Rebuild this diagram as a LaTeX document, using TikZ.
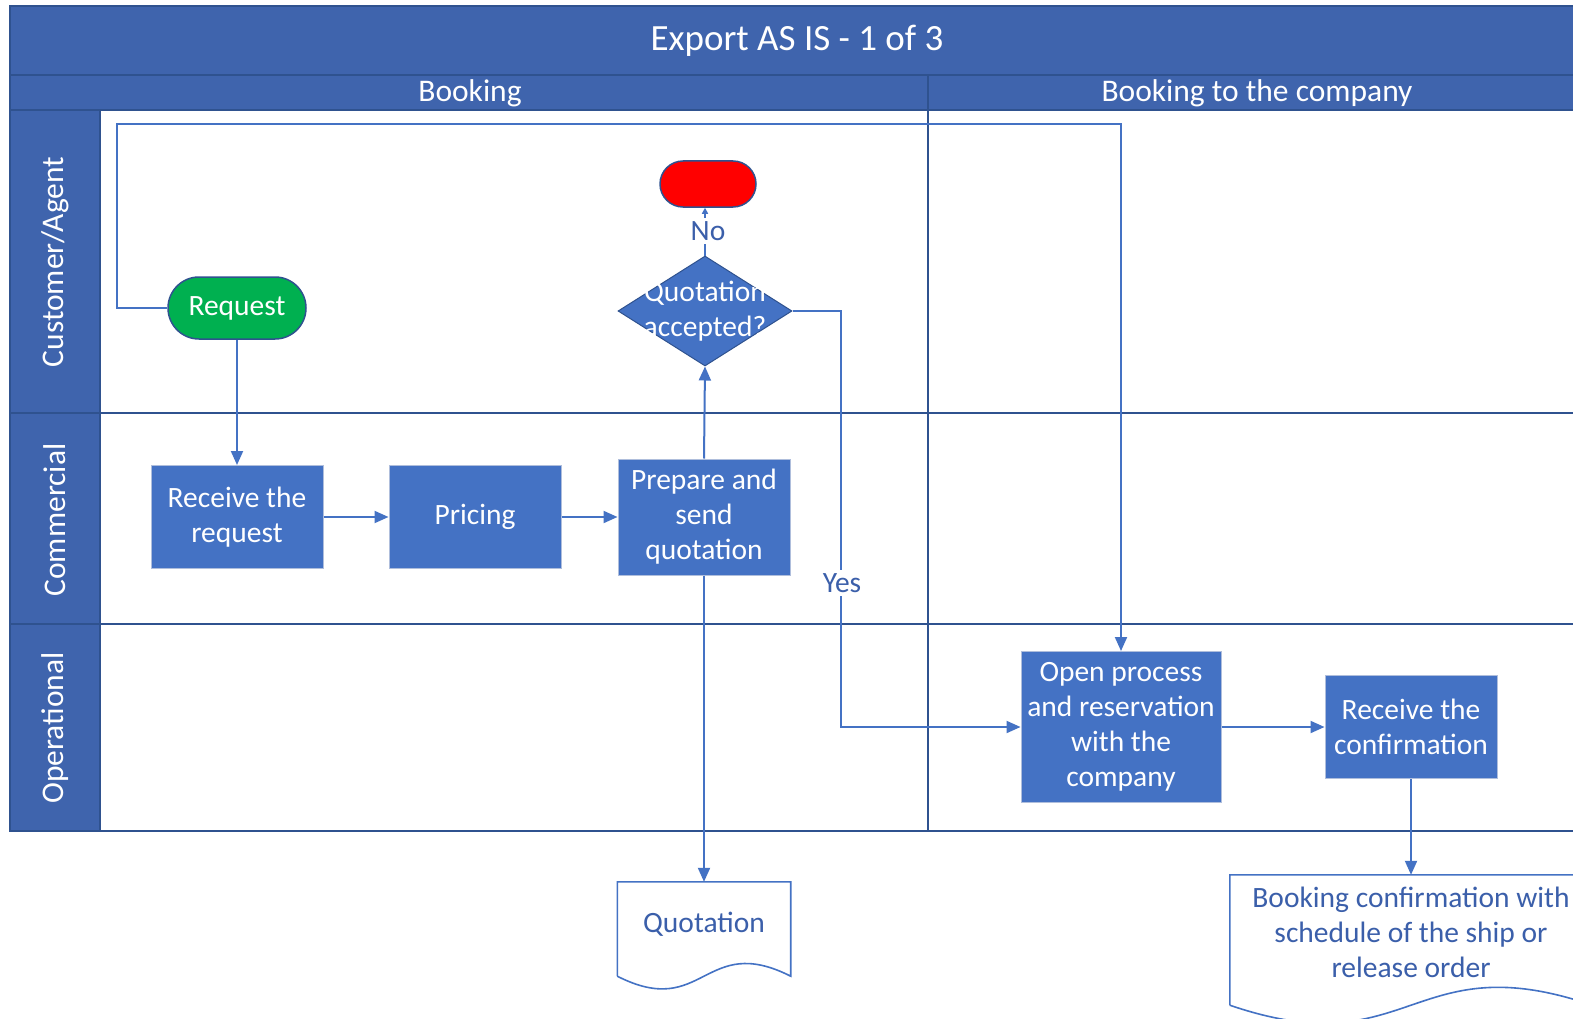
\documentclass[tikz,border=0pt]{standalone}
\usepackage{fontspec}
\setmainfont{Carlito}
\usetikzlibrary{shapes.geometric,arrows.meta,backgrounds,calc}

\definecolor{hdr}{RGB}{63,100,173}
\definecolor{hdrline}{RGB}{47,82,143}
\definecolor{boxblue}{RGB}{68,114,196}
\definecolor{boxedge}{RGB}{175,190,220}
\definecolor{lbl}{RGB}{59,95,170}
\definecolor{startgreen}{RGB}{0,176,80}
\definecolor{endred}{RGB}{255,0,0}

\begin{document}
\begin{tikzpicture}[x=1pt,y=-1pt,
  boxfont/.style={font=\fontsize{29.5}{35}\selectfont},
  proc/.style={boxfont, draw=boxedge, line width=1pt, fill=boxblue, text=white,
    align=center, inner sep=0pt, minimum width=172pt, minimum height=103pt},
  term/.style={boxfont, draw=hdrline, line width=1.5pt, text=white, inner sep=0pt},
  decision/.style={diamond, draw=hdrline, line width=1pt, fill=boxblue,
    inner sep=0pt, minimum width=174pt, minimum height=110pt},
  docbox/.style={inner sep=0pt, text=lbl, align=center,
    font=\fontsize{29.5}{35}\selectfont},
  docline/.style={draw=boxblue, line width=1.6pt},
  conn/.style={draw=boxblue, line width=2pt,
    -{Triangle[length=14pt,width=12pt]}},
  flowlabel/.style={fill=white, text=lbl, inner sep=3pt,
    font=\fontsize{29.5}{32}\selectfont},
  hdrtext/.style={text=white, font=\fontsize{31.5}{34}\selectfont},
  lanetext/.style={text=white, rotate=90, font=\fontsize{31.5}{34}\selectfont},
  laneline/.style={draw=hdrline, line width=1.5pt}
]
\useasboundingbox (0,0) rectangle (1573,1019);
\clip (0,0) rectangle (1573,1019);

% ---------- flow nodes ----------
\node[term, fill=startgreen, minimum width=138pt, minimum height=62pt,
      rounded corners=31pt] (req) at (237,308) {Request};
\node[term, fill=endred, minimum width=96pt, minimum height=46pt,
      rounded corners=23pt] (stop) at (708,184) {};
\node[decision,
      label={[text=white, boxfont, align=center]center:Quotation\\accepted?}]
      (dec) at (705,311) {};

\node[proc] (recv) at (237,517) {Receive the\\request};
\node[proc] (price) at (475,517) {Pricing};
\node[proc, minimum height=116pt] (prep) at (704,517) {Prepare and\\send\\quotation};

\node[proc, minimum width=200pt, minimum height=151pt] (open) at (1121,727)
      {Open process\\and reservation\\with the\\company};
\node[proc] (conf) at (1411,727) {Receive the\\confirmation};

% documents: node is the straight-sided upper part, wave drawn below it
\node[docbox, minimum width=173pt, minimum height=94pt,
      label={[docbox, yshift=5pt]center:Quotation}] (qdoc) at (704,929) {};
\node[docbox, minimum width=362pt, minimum height=130pt,
      label={[docbox, yshift=8pt]center:Booking confirmation with\\schedule of the ship or\\release order}]
      (bdoc) at (1411,940) {};

\draw[docline] (qdoc.south west) -- (qdoc.north west) -- (qdoc.north east)
  -- (qdoc.south east)
  .. controls ($(qdoc.south)+(0,-44)$) and ($(qdoc.south)+(0,44)$) .. (qdoc.south west);
\draw[docline] (bdoc.south west) -- (bdoc.north west) -- (bdoc.north east)
  -- (bdoc.south east)
  .. controls ($(bdoc.south)+(0,-62)$) and ($(bdoc.south)+(0,62)$) .. (bdoc.south west);

% ---------- connectors ----------
\coordinate (loop) at (117,124);
\coordinate (yesturn) at (841,727);

\draw[conn] (req.west) -| (loop) -| (open.north);
\draw[conn] (req.south) -- (recv.north);
\draw[conn] (recv.east) -- (price.west);
\draw[conn] (price.east) -- (prep.west);
\draw[conn] (prep.north) -- (dec.south);
\draw[draw=boxblue, line width=2pt, -{Triangle[length=6pt,width=6pt]}]
  (dec.north) -- (dec.north |- stop.south);
\node[flowlabel] (no) at (708,231) {No};
\draw[conn] (dec.east) -| (yesturn) -- (open.west);
\node[flowlabel] (yes) at (842,583) {Yes};
\draw[conn] (prep.south) -- (qdoc.north);
\draw[conn] (open.east) -- (conf.west);
\draw[conn] (conf.south) -- (bdoc.north);

% ---------- pool, phases and lanes ----------
\begin{scope}[on background layer]
  \fill[white] (0,0) rectangle (1573,1019);
  % title band
  \draw[fill=hdr, draw=hdrline, line width=1.5pt] (10,6) rectangle (1590,75);
  \node[text=white, font=\fontsize{37}{40}\selectfont] (title) at (797,41)
       {Export AS IS - 1 of 3};
  % phase header band
  \draw[fill=hdr, draw=hdrline, line width=1.5pt] (10,75) rectangle (1590,110);
  \draw[laneline] (928,75) -- (928,110);
  \node[hdrtext] (ph1) at (470,93) {Booking};
  \node[hdrtext] (ph2) at (1257,93) {Booking to the company};
  % lane label column
  \draw[fill=hdr, draw=hdrline, line width=1.5pt] (10,110) rectangle (100,413);
  \draw[fill=hdr, draw=hdrline, line width=1.5pt] (10,413) rectangle (100,624);
  \draw[fill=hdr, draw=hdrline, line width=1.5pt] (10,624) rectangle (100,831);
  \node[lanetext] (l1) at (55,262) {Customer/Agent};
  \node[lanetext] (l2) at (55,520) {Commercial};
  \node[lanetext] (l3) at (55,728) {Operational};
  % lane boundaries and phase divider
  \draw[laneline] (100,413) -- (1590,413);
  \draw[laneline] (100,624) -- (1590,624);
  \draw[laneline] (100,831) -- (1590,831);
  \draw[laneline] (928,110) -- (928,831);
\end{scope}
\end{tikzpicture}
\end{document}
